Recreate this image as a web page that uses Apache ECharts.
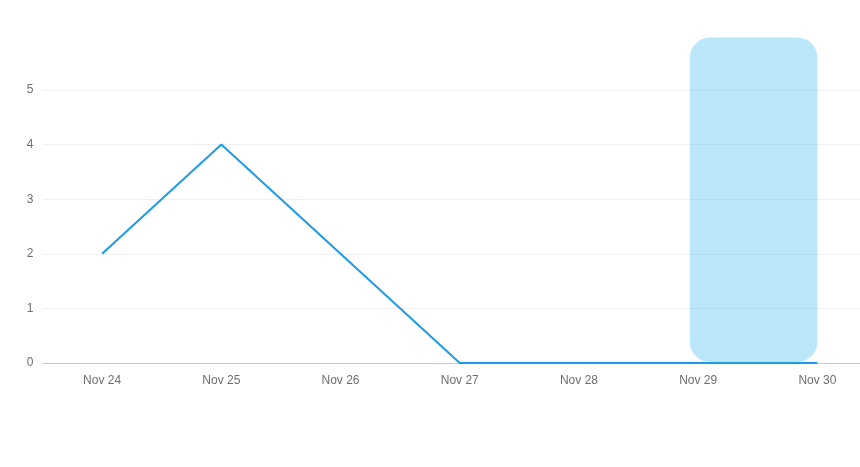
<!DOCTYPE html>
<html>
<head>
<meta charset="utf-8">
<script src="https://cdn.jsdelivr.net/npm/echarts@6/dist/echarts.min.js"></script>
<style>html,body{margin:0;padding:0;background:#fff;width:860px;height:467px;overflow:hidden}#c{width:877px;height:467px}</style>
</head>
<body>
<div id="c"></div>
<script>
var categories = ['Nov 24','Nov 25','Nov 26','Nov 27','Nov 28','Nov 29','Nov 30'];
var values = [2, 4, 2, 0, 0, 0, 0];
var yTicks = [0, 1, 2, 3, 4, 5];
// highlight band: [xStart (category index), xEnd, yBottom, yTop]
var highlight = [[4.93, 6.0, 0.02, 5.96]];

var chart = echarts.init(document.getElementById('c'), null, {renderer: 'canvas'});
chart.setOption({
  animation: false,
  grid: {left: 42.5, top: 90, right: 0, bottom: 104, containLabel: false},
  xAxis: {
    type: 'category',
    data: categories,
    boundaryGap: true,
    axisLine: {lineStyle: {color: '#cccccc'}},
    axisTick: {alignWithLabel: true, lineStyle: {color: '#cccccc'}},
    axisLabel: {color: '#6e6e6e', fontSize: 12, margin: 12, fontFamily: 'Liberation Sans, Arial, sans-serif'}
  },
  yAxis: {
    type: 'value',
    min: yTicks[0], max: yTicks[yTicks.length - 1], interval: 1,
    axisLine: {show: false},
    axisTick: {show: false},
    axisLabel: {color: '#6e6e6e', fontSize: 12, margin: 9, fontFamily: 'Liberation Sans, Arial, sans-serif'},
    splitLine: {lineStyle: {color: '#f0f0f0'}}
  },
  series: [
    {
      type: 'line',
      data: values,
      symbol: 'none',
      lineStyle: {color: '#1c9be8', width: 2},
      z: 2
    },
    {
      type: 'custom',
      data: highlight,
      clip: false,
      z: 3,
      renderItem: function (params, api) {
        var bw = api.size([1, 0])[0];
        function px(v) {
          var i = Math.round(v);
          return api.coord([i, 0])[0] + (v - i) * bw;
        }
        var x0 = px(api.value(0));
        var x1 = px(api.value(1));
        var yTop = api.coord([0, api.value(3)])[1];
        var yBot = api.coord([0, api.value(2)])[1];
        return {
          type: 'rect',
          shape: {x: x0, y: yTop, width: x1 - x0, height: yBot - yTop, r: 20},
          style: {fill: 'rgba(40,180,240,0.32)'}
        };
      },
      encode: {x: [0, 1], y: [2, 3]}
    }
  ]
});
</script>
</body>
</html>
